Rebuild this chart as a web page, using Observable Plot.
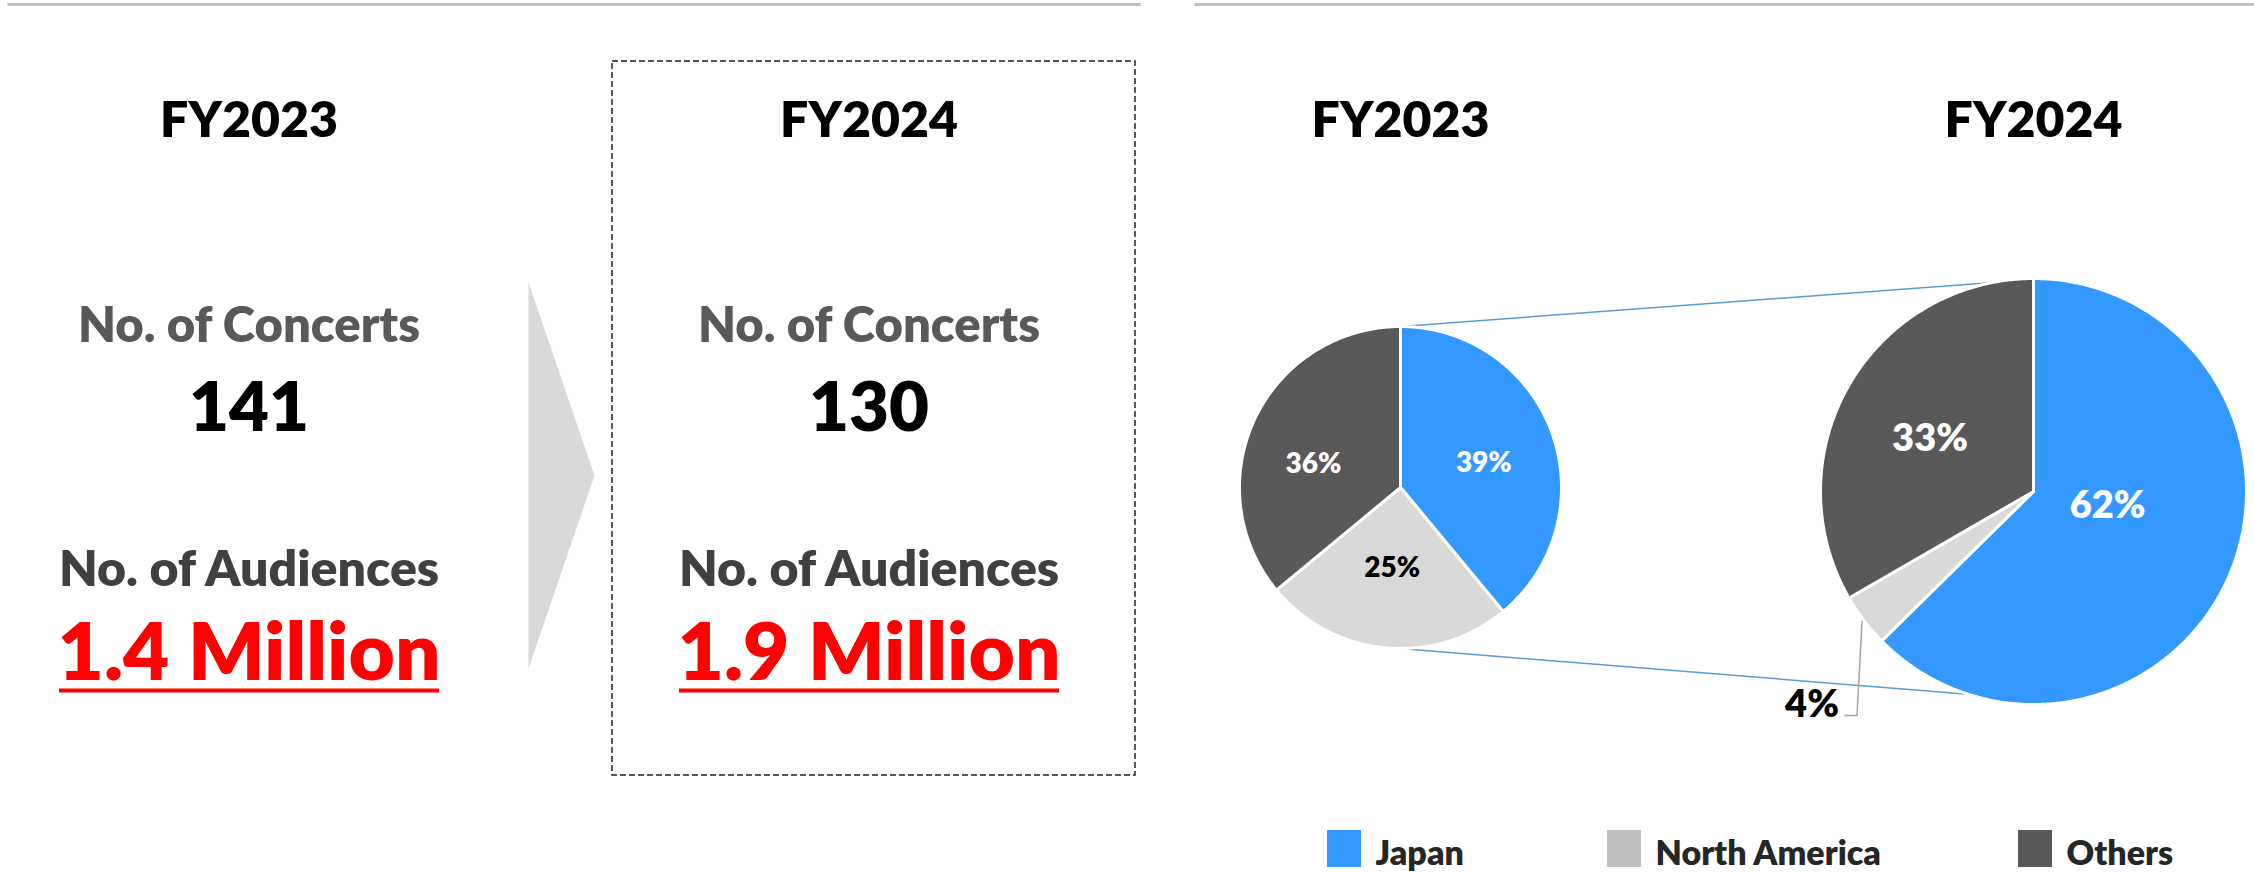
<!DOCTYPE html>
<html>
<head>
<meta charset="utf-8">
<script src="https://cdn.jsdelivr.net/npm/d3@7"></script>
<script src="https://cdn.jsdelivr.net/npm/@observablehq/plot@0.6"></script>
<style>
  html, body { margin: 0; padding: 0; background: #fff; }
  #chart svg { display: block; }
</style>
</head>
<body>
<div id="chart"></div>
<script>
// ---------------- DATA ----------------
const years = ["FY2023", "FY2024"];
const kpiLabels = ["No. of Concerts", "No. of Audiences"];
const concerts = [141, 130];
const audiencesMillion = [1.4, 1.9];
const regions = ["Japan", "North America", "Others"];
const share2023 = [39, 25, 36];
const share2024 = [62, 4, 33];

// ---------------- STYLE / LAYOUT ----------------
const W = 2254, H = 872;
const FONT = "Lato, 'Open Sans', 'Noto Sans', sans-serif";
const WEIGHT = 800;
const sliceColors = ["#3399FF", "#D9D9D9", "#595959"];
const legendColors = ["#3399FF", "#BFBFBF", "#595959"];
const sliceLabelColors = ["#FFFFFF", "#000000", "#FFFFFF"];
const kpiCols = [248.5, 868.5];
const pies = [
  {cx: 1400, cy: 487, r: 161, fs: 28, shares: share2023, title: years[0]},
  {cx: 2033, cy: 491, r: 213, fs: 38, shares: share2024, title: years[1]}
];
// label nudges (px) per pie & slice
const labelNudge = [
  [[0, 6], [0, -8], [-7, 14]],
  [[-34, -31], null, [-2, 6]]
];

// ---------------- BUILD GEOMETRY ----------------
const pieGen = d3.pie().sort(null).startAngle(0).endAngle(2 * Math.PI);
function pt(cx, cy, r, a) { return [cx + r * Math.sin(a), cy - r * Math.cos(a)]; }
function arcPoints(cx, cy, r, a0, a1) {
  const pts = [[cx, cy]];
  const n = Math.max(2, Math.ceil((a1 - a0) / (Math.PI / 360)));
  for (let i = 0; i <= n; i++) pts.push(pt(cx, cy, r, a0 + (a1 - a0) * i / n));
  return pts;
}

const marks = [];

// top separator lines
marks.push(Plot.link([{x1: 7, x2: 1140}, {x1: 1194, x2: 2254}], {
  x1: "x1", x2: "x2", y1: () => 4, y2: () => 4, stroke: "#BFBFBF", strokeWidth: 3
}));

// dashed frame around FY2024 KPI
marks.push(Plot.rect([{}], {
  x1: () => 612, x2: () => 1135, y1: () => 61, y2: () => 775,
  fill: "none", stroke: "#222", strokeWidth: 1.5, strokeDasharray: "6,3"
}));

// grey chevron arrow
marks.push(Plot.line([[528, 282], [594, 475], [528, 668]], {
  x: d => d[0], y: d => d[1], curve: "linear-closed", fill: "#D9D9D9", stroke: "none"
}));

// KPI texts
const kpi = years.map((y, i) => ({
  x: kpiCols[i], year: y, c: concerts[i], a: `${audiencesMillion[i]} Million`
}));
const T = {fontWeight: WEIGHT, textAnchor: "middle", lineAnchor: "bottom"};
marks.push(Plot.text(kpi, {...T, x: "x", y: () => 136, text: "year", fontSize: 50, fill: "#000"}));
marks.push(Plot.text(kpi, {...T, x: "x", y: () => 341, text: () => kpiLabels[0], fontSize: 49, fill: "#595959"}));
marks.push(Plot.text(kpi, {...T, x: "x", y: () => 430, text: d => String(d.c), fontSize: 69, fill: "#000"}));
marks.push(Plot.text(kpi, {...T, x: "x", y: () => 585, text: () => kpiLabels[1], fontSize: 50, fill: "#404040"}));
marks.push(Plot.text(kpi, {...T, x: "x", y: () => 679, text: "a", fontSize: 80, fill: "#FF0000"}));
marks.push(Plot.link(kpi, {x1: d => d.x - 190, x2: d => d.x + 190, y1: () => 690, y2: () => 690, stroke: "#FF0000", strokeWidth: 4}));

// connector lines between pies
const [p1, p2] = pies;
marks.push(Plot.link([
  {x1: p1.cx - 13, y1: p1.cy - p1.r + 1, x2: p2.cx, y2: p2.cy - p2.r + 1},
  {x1: p1.cx - 13, y1: p1.cy + p1.r - 1, x2: p2.cx, y2: p2.cy + p2.r - 5}
], {x1: "x1", y1: "y1", x2: "x2", y2: "y2", stroke: "#5B9BD5", strokeWidth: 1.5}));

// pies
const sliceLabels = [];
let leader = null;
pies.forEach((p, pi) => {
  const arcs = pieGen(p.shares);
  arcs.forEach((a, si) => {
    marks.push(Plot.line(arcPoints(p.cx, p.cy, p.r, a.startAngle, a.endAngle), {
      x: d => d[0], y: d => d[1], curve: "linear-closed",
      fill: sliceColors[si], stroke: "#FFFFFF", strokeWidth: 3, strokeLinejoin: "miter"
    }));
    const mid = (a.startAngle + a.endAngle) / 2;
    const nudge = labelNudge[pi][si];
    if (nudge) {
      const [lx, ly] = pt(p.cx, p.cy, p.r * 0.55, mid);
      sliceLabels.push({x: lx + nudge[0], y: ly + nudge[1], text: `${p.shares[si]}%`, fs: p.fs, color: sliceLabelColors[si]});
    } else {
      const [ax, ay] = pt(p.cx, p.cy, p.r, mid);
      leader = [[ax - 2, ay + 1], [ax - 7, ay + 95], [ax - 19, ay + 95]];
      sliceLabels.push({x: ax - 52, y: ay + 84, text: `${p.shares[si]}%`, fs: 38, color: "#000000"});
    }
  });
});
if (leader) marks.push(Plot.line(leader, {x: d => d[0], y: d => d[1], stroke: "#A6A6A6", strokeWidth: 1.5, curve: "linear"}));
sliceLabels.forEach(l => {
  marks.push(Plot.text([l], {x: "x", y: "y", text: "text", fontSize: l.fs, fontWeight: WEIGHT, fill: l.color, textAnchor: "middle", lineAnchor: "middle"}));
});

// pie titles
marks.push(Plot.text(pies, {...T, x: "cx", y: () => 136, text: "title", fontSize: 50, fill: "#000"}));

// legend
const legendX = [1327, 1607, 2018];
const legend = regions.map((r, i) => ({name: r, x: legendX[i], color: legendColors[i]}));
marks.push(Plot.rect(legend, {x1: "x", x2: d => d.x + 34, y1: () => 830, y2: () => 867, fill: d => d.color}));
marks.push(Plot.text(legend, {x: d => d.x + 48, y: () => 864, text: "name", fontSize: 34, fontWeight: WEIGHT, fill: "#262626", textAnchor: "start", lineAnchor: "bottom"}));

const chart = Plot.plot({
  width: W, height: H, margin: 0,
  x: {domain: [0, W], range: [0, W], axis: null},
  y: {domain: [0, H], range: [0, H], axis: null},
  color: {type: "identity"},
  style: {background: "#fff", fontFamily: FONT, overflow: "visible"},
  marks
});
document.getElementById("chart").appendChild(chart);
</script>
</body>
</html>
